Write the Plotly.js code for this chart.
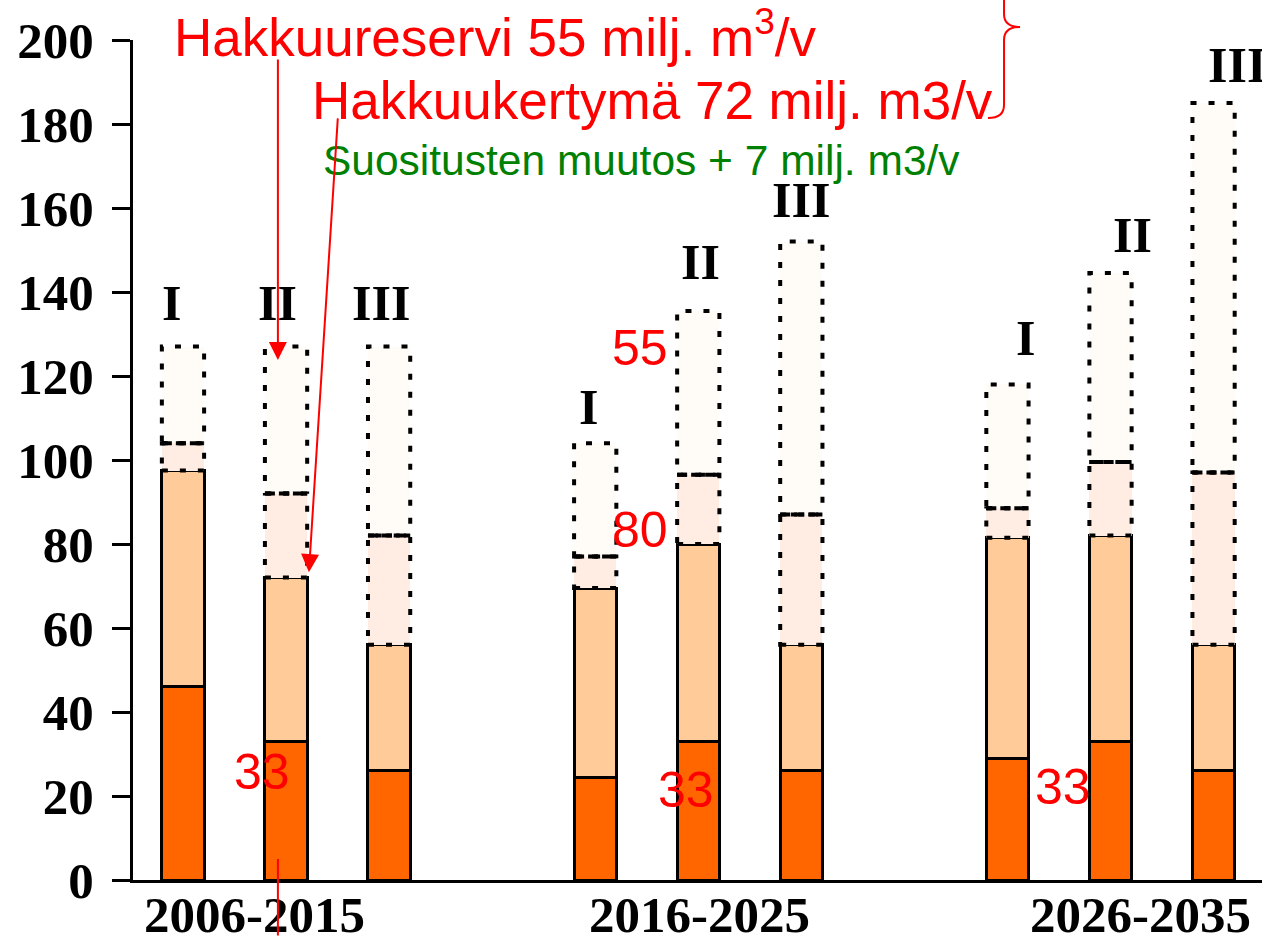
<!DOCTYPE html>
<html>
<head>
<meta charset="utf-8">
<script src="https://cdn.plot.ly/plotly-3.0.1.min.js"></script>
<style>body { margin: 0; background: #fff; }</style>
</head>
<body>
<div id="chart" style="width:1262px;height:937px"></div>
<script>
  // periods and scenarios
  let periods = ["2006-2015", "2016-2025", "2026-2035"];
  let scenarios = ["I", "II", "III"];

  // stacked parts, milj. m3/v (order: I, II, III for each period)
  let part1 = [46, 33, 26, 24.5, 33, 26, 29, 33, 26];
  let part2 = [51.5, 39, 30, 45, 47, 30, 52.5, 49, 30];
  let part3 = [6.5, 20, 26, 7.5, 16.5, 31, 7, 17.5, 41];
  let part4 = [23, 35, 45, 27, 39, 65, 29.5, 45, 88];

  // text labels drawn in the chart
  let reserveText = "Hakkuureservi 55 milj. m<sup>3</sup>/v";
  let yieldText = "Hakkuukertymä 72 milj. m3/v";
  let changeText = "Suositusten muutos + 7 milj. m3/v";

  document.addEventListener("DOMContentLoaded", function() {
    drawChart();
  });

  function drawChart() {
    let barWidth = 0.41;
    let xs = [];
    let labels = [];
    periods.forEach(function(p, g) {
      scenarios.forEach(function(s, k) {
        xs.push(g * 4 + k);
        labels.push(s);
      });
    });

    let solidLine = { color: "black", width: 3 };
    let noLine = { width: 0 };
    let traces = [
      { x: xs, y: part1, type: "bar", width: barWidth, marker: { color: "#FF6600", line: solidLine } },
      { x: xs, y: part2, type: "bar", width: barWidth, marker: { color: "#FFCC99", line: solidLine } },
      { x: xs, y: part3, type: "bar", width: barWidth, marker: { color: "#FFEDE3", line: noLine } },
      { x: xs, y: part4, type: "bar", width: barWidth, marker: { color: "#FFFCF8", line: noLine } }
    ];

    let serif = function(size) { return { family: "Liberation Serif", size: size, weight: "bold", color: "black" }; };

    // the roman labels were placed by hand in the original, so nudge them a bit
    let labelDx = [-11, -9, -8, -7, 2, 0, 18, 22, 23];
    let labelDy = [14, 14, 14, 6, 19, 12, 16, 8, 8];

    let shapes = [];
    let annotations = [];
    let dotted = { color: "black", width: 4, dash: "6px,12px" };
    xs.forEach(function(x, i) {
      let b3 = part1[i] + part2[i];
      let t3 = b3 + part3[i];
      let t4 = t3 + part4[i];
      let x0 = x - barWidth / 2;
      let x1 = x + barWidth / 2;
      shapes.push(
        { type: "rect", xref: "x", yref: "y", layer: "above", x0: x0, x1: x1, y0: b3, y1: t3, line: dotted },
        { type: "rect", xref: "x", yref: "y", layer: "above", x0: x0, x1: x1, y0: t3, y1: t4, line: dotted },
        { type: "line", xref: "x", yref: "y", layer: "above", x0: x0, x1: x1, y0: t3, y1: t3,
          line: { color: "black", width: 4, dash: "10px,4px" } }
      );
      annotations.push({
        x: x, y: t4, text: labels[i], showarrow: false, yanchor: "bottom",
        xshift: labelDx[i], yshift: labelDy[i], font: serif(50)
      });
    });

    // period labels under the axis
    let periodX = [0.69, 5.01, 9.29];
    periods.forEach(function(p, g) {
      annotations.push({
        x: periodX[g], y: 0, yref: "paper", yanchor: "top", yshift: -5,
        text: p, showarrow: false, font: serif(51)
      });
    });

    // red curly brace (pixel points turned into paper coords)
    let px = function(v) { return ((v - 133) / 1129).toFixed(4); };
    let py = function(v) { return ((880 - v) / 840).toFixed(4); };
    let brace = "M" + px(988) + "," + py(118) +
      " Q" + px(1004) + "," + py(118) + " " + px(1004) + "," + py(105) +
      " L" + px(1004) + "," + py(40) +
      " Q" + px(1004) + "," + py(27) + " " + px(1020) + "," + py(27) +
      " Q" + px(1004) + "," + py(27) + " " + px(1004) + "," + py(14) +
      " L" + px(1004) + "," + py(-40);
    shapes.push({ type: "path", xref: "paper", yref: "paper", path: brace, line: { color: "red", width: 2 } });

    let red = function(size) { return { family: "Liberation Sans", size: size, color: "#FF0000" }; };
    let arrow = { showarrow: true, arrowhead: 2, arrowsize: 1.8, arrowwidth: 2, arrowcolor: "#FF0000", standoff: 0 };
    annotations.push(
      { x: 3.03, y: 1.008, yref: "paper", yanchor: "middle", text: reserveText, showarrow: false, font: red(53) },
      { x: 4.56, y: 185.5, text: yieldText, showarrow: false, font: red(53) },
      { x: 4.45, y: 171.4, text: changeText, showarrow: false,
        font: { family: "Liberation Sans", size: 42.5, color: "#008000" } },
      { x: 4.43, y: 126.7, text: "55", showarrow: false, font: red(50) },
      { x: 4.43, y: 83.3, text: "80", showarrow: false, font: red(50) },
      { x: 0.766, y: 25.7, text: "33", showarrow: false, font: red(50) },
      { x: 4.88, y: 21.4, text: "33", showarrow: false, font: red(50) },
      { x: 8.54, y: 22.1, text: "33", showarrow: false, font: red(50) },
      // arrows
      Object.assign({ x: 0.921, y: 123.8, ax: 0.921, ay: 195.7, axref: "x", ayref: "y", text: "" }, arrow),
      Object.assign({ x: 1.222, y: 73.3, ax: 1.503, ay: 181.7, axref: "x", ayref: "y", text: "" }, arrow),
      { x: 0.921, y: 5, ax: 0, ay: 80, text: "",
        showarrow: true, arrowhead: 0, arrowwidth: 2, arrowcolor: "#FF0000", standoff: 0 }
    );

    let layout = {
      width: 1262,
      height: 937,
      margin: { l: 133, r: 0, t: 40, b: 57 },
      barmode: "stack",
      showlegend: false,
      plot_bgcolor: "white",
      paper_bgcolor: "white",
      xaxis: {
        range: [-0.485, 10.47],
        showticklabels: false,
        ticks: "",
        showgrid: false,
        zeroline: false,
        showline: true,
        linecolor: "black",
        linewidth: 3
      },
      yaxis: {
        range: [0, 200],
        dtick: 20,
        ticks: "outside",
        ticklen: 18,
        tickwidth: 3,
        tickcolor: "black",
        ticklabelstandoff: 8,
        showgrid: false,
        zeroline: false,
        showline: true,
        linecolor: "black",
        linewidth: 3,
        tickfont: serif(51)
      },
      shapes: shapes,
      annotations: annotations
    };

    Plotly.newPlot("chart", traces, layout, { displayModeBar: false });
  }
</script>
</body>
</html>
